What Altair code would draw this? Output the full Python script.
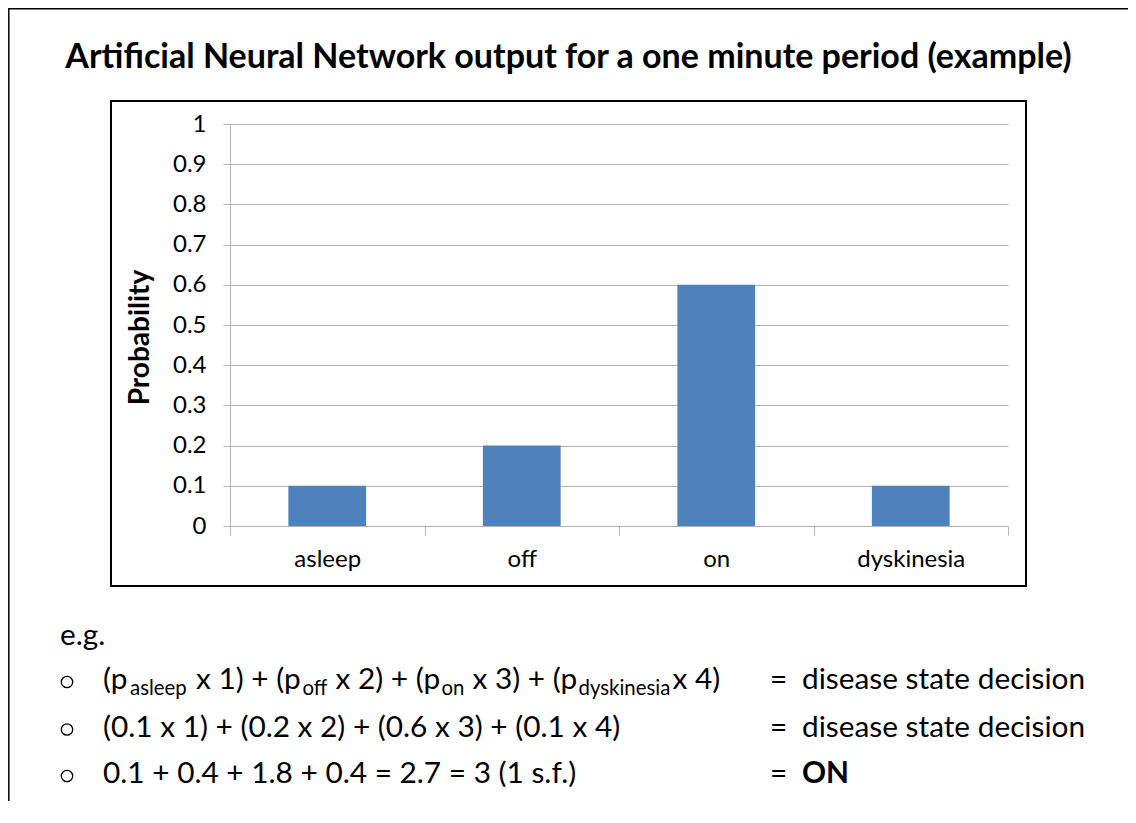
import altair as alt
import pandas as pd

# ---- chart values -------------------------------------------------------
categories = ["asleep", "off", "on", "dyskinesia"]
probabilities = [0.1, 0.2, 0.6, 0.1]
y_ticks = [0, 0.1, 0.2, 0.3, 0.4, 0.5, 0.6, 0.7, 0.8, 0.9, 1]

title_text = "Artificial Neural Network output for a one minute period (example)"
y_title = "Probability"

FONT = "Lato"
W, H = 778, 402          # plot area
OX, OY = 230, 124        # page position of the plot origin
BAR_BLUE = "#4F81BD"
AXIS_GREY = "#B3B3B3"

df = pd.DataFrame({"state": categories, "p": probabilities})
one = alt.Data(values=[{}])


def px(x):
    return x - OX


def py(y):
    return y - OY


def text(x, y, s, size, bold=False, align="left", baseline="alphabetic"):
    return alt.Chart(one).mark_text(
        font=FONT, fontSize=size, fontWeight="bold" if bold else "normal",
        align=align, baseline=baseline, color="black"
    ).encode(x=alt.value(px(x)), y=alt.value(py(y)), text=alt.value(s))


def bullet(x, y):
    return alt.Chart(one).mark_point(
        shape="circle", filled=False, size=130, stroke="black", strokeWidth=1.3, opacity=1
    ).encode(x=alt.value(px(x)), y=alt.value(py(y)))


bars = alt.Chart(df).mark_bar(color=BAR_BLUE, width={"band": 0.4}).encode(
    x=alt.X(
        "state:N", sort=categories,
        scale=alt.Scale(paddingInner=0, paddingOuter=0),
        axis=alt.Axis(
            title=None, labelAngle=0, tickBand="extent", grid=False,
            domainColor=AXIS_GREY, tickColor=AXIS_GREY, tickSize=9,
            labelFont=FONT, labelFontSize=24, labelColor="black", labelPadding=12,
        ),
    ),
    y=alt.Y(
        "p:Q", scale=alt.Scale(domain=[0, 1]),
        axis=alt.Axis(
            values=y_ticks, format="~g", title=y_title,
            titleFont=FONT, titleFontSize=28, titleFontWeight="bold", titleColor="black",
            titleAngle=270, titleX=px(140), titleY=py(337), titleAlign="center",
            titleBaseline="middle",
            grid=True, gridColor=AXIS_GREY, domainColor=AXIS_GREY, tickColor=AXIS_GREY,
            tickSize=7, labelFont=FONT, labelFontSize=24, labelColor="black",
            labelPadding=17,
        ),
    ),
)

box = alt.Chart(one).mark_rect(fill="transparent", stroke="black", strokeWidth=2).encode(
    x=alt.value(px(111)), x2=alt.value(px(1026)), y=alt.value(py(101)), y2=alt.value(py(586))
)
frame_left = alt.Chart(one).mark_rule(color="black", strokeWidth=1.5).encode(
    x=alt.value(px(8.8)), y=alt.value(py(8)), y2=alt.value(py(830))
)
frame_top = alt.Chart(one).mark_rule(color="black", strokeWidth=1.5).encode(
    x=alt.value(px(8)), x2=alt.value(px(1140)), y=alt.value(py(8.8))
)

MAIN, SUB = 29.8, 20.4
b1, b2, b3 = 689, 736.5, 783
d = 6  # subscript drop
layers = [
    bars, box, frame_left, frame_top,
    text(568.5, 68, title_text, 34, bold=True, align="center"),
    text(60, 645, "e.g.", MAIN),
    # line 1
    bullet(67, b1 - 7),
    text(103, b1, "(p", MAIN),
    text(130, b1 + d, "asleep", SUB),
    text(196, b1, "x 1) + (p", MAIN),
    text(302.5, b1 + d, "off", SUB),
    text(335.5, b1, "x 2) + (p", MAIN),
    text(441.5, b1 + d, "on", SUB),
    text(472.5, b1, "x 3) + (p", MAIN),
    text(578.5, b1 + d, "dyskinesia", SUB),
    text(672.5, b1, "x 4)", MAIN),
    text(770, b1, "=", MAIN),
    text(802, b1, "disease state decision", MAIN),
    # line 2
    bullet(67, b2 - 7),
    text(103, b2, "(0.1 x 1) + (0.2 x 2) + (0.6 x 3) + (0.1 x 4)", MAIN),
    text(770, b2, "=", MAIN),
    text(802, b2, "disease state decision", MAIN),
    # line 3
    bullet(67, b3 - 7),
    text(103, b3, "0.1 + 0.4 + 1.8 + 0.4 = 2.7 = 3 (1 s.f.)", MAIN),
    text(770, b3, "=", MAIN),
    text(802, b3, "ON", MAIN, bold=True),
]

chart = alt.layer(*layers).properties(
    width=W, height=H,
    padding={"left": 222, "top": 116, "right": 120, "bottom": 275},
    autosize=alt.AutoSizeParams(type="none"),
    background="white",
).configure_view(stroke=None)

chart.save("out.html", embed_options={"renderer": "svg", "actions": False})
